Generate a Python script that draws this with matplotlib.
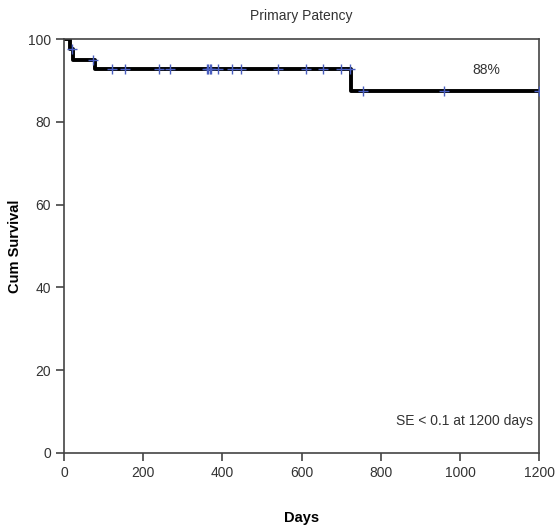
import numpy as np
import matplotlib.pyplot as plt

plt.rcParams['font.family'] = ['Liberation Sans', 'DejaVu Sans']

# step points of the Kaplan-Meier curve (days, cum survival %)
step_days = [0, 15, 22, 78, 725, 1200]
step_surv = [100, 97.5, 95.0, 92.7, 87.4, 87.4]

# censored observations (days)
censor_days = [20, 73, 120, 155, 240, 268, 360, 364, 368, 372, 390, 425, 448,
               540, 612, 655, 700, 721, 756, 960, 1200]


def surv_at(t):
    s = step_surv[0]
    for d, v in zip(step_days, step_surv):
        if t >= d:
            s = v
    return s


censor_surv = [surv_at(t) for t in censor_days]

fig = plt.figure(figsize=(5.57, 5.29), dpi=100)
ax = fig.add_axes([0.115, 0.144, 0.853, 0.782])

ax.step(step_days, step_surv, where='post', color='black', lw=2.8, zorder=2)
ax.plot(censor_days, censor_surv, '+', color='#4a5fc1', ms=7, mew=1.0, zorder=3)

ax.set_xlim(0, 1200)
ax.set_ylim(0, 100)
ax.set_xticks([0, 200, 400, 600, 800, 1000, 1200])
ax.set_yticks([0, 20, 40, 60, 80, 100])

for s in ax.spines.values():
    s.set_color('#444444')
    s.set_linewidth(1.2)
ax.tick_params(direction='out', length=6, width=1.2, color='#444444',
               labelsize=10, labelcolor='#333333')

ax.text(1067, 92.6, '88%', fontsize=10, color='#333333', ha='center', va='center')
ax.text(1185, 7.7, 'SE < 0.1 at 1200 days', fontsize=10, color='#333333',
        ha='right', va='center')

ax.set_title('Primary Patency', fontsize=10, color='#333333', pad=14)
ax.set_xlabel('Days', fontsize=10.5, fontweight='bold', labelpad=22)
ax.set_ylabel('Cum Survival', fontsize=10.5, fontweight='bold', labelpad=4)

fig.savefig('out.png', dpi=100)
